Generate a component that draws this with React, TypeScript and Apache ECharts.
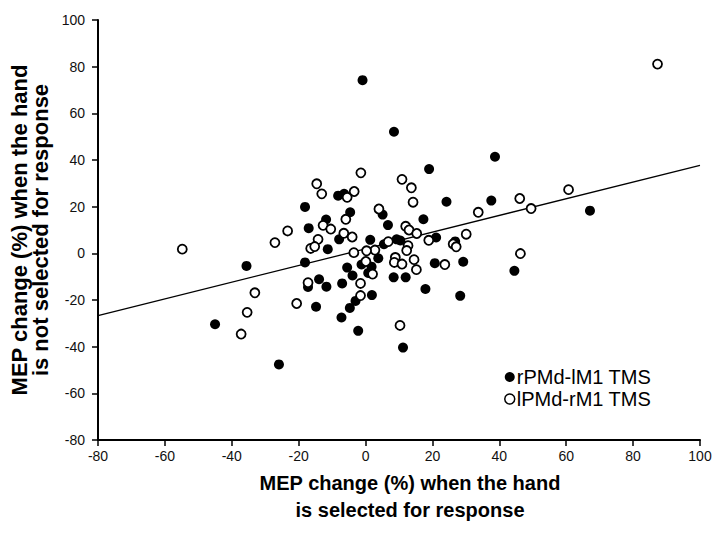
import React, { useEffect, useRef } from "react";
import * as echarts from "echarts";

// rPMd-lM1 TMS (filled circles): [x, y]
const rPMdData: number[][] = [
  [-0.9, 74.2], [8.5, 52.1], [38.7, 41.4], [19.0, 36.1], [24.2, 22.1], [37.6, 22.6],
  [67.1, 18.3], [17.3, 14.6], [44.5, -7.5], [-8.2, 24.7], [-6.4, 25.5], [-18.1, 19.9],
  [-4.6, 17.6], [5.1, 16.6], [-11.8, 14.5], [6.7, 12.1], [-17.0, 10.8], [-7.9, 6.0],
  [-11.3, 1.8], [1.4, 5.8], [5.5, 3.9], [9.3, 6.0], [10.4, 5.5], [21.1, 6.8],
  [26.8, 5.1], [3.8, -2.1], [-1.2, -4.8], [1.8, -5.7], [0.8, -8.4], [20.7, -4.2],
  [29.2, -3.6], [8.4, -10.3], [12.0, -10.3], [1.9, -17.9], [17.9, -15.3], [28.3, -18.2],
  [11.2, -40.4], [-18.1, -3.9], [-5.5, -6.1], [-3.9, -9.5], [-13.9, -11.1], [-11.7, -14.3],
  [-17.2, -14.4], [-7.0, -12.9], [-3.0, -20.4], [-4.7, -23.4], [-14.8, -22.9], [-7.2, -27.5],
  [-2.2, -33.2], [-35.6, -5.4], [-45.0, -30.4], [-25.9, -47.6],
];

// lPMd-rM1 TMS (open circles): [x, y]
const lPMdData: number[][] = [
  [87.3, 81.1], [60.7, 27.3], [46.1, 23.5], [49.5, 19.2], [33.7, 17.6], [10.9, 31.7],
  [13.7, 28.1], [14.2, 21.9], [46.3, -0.1], [-1.4, 34.5], [-14.6, 29.8], [-13.1, 25.5],
  [-5.5, 24.0], [-3.4, 26.5], [4.0, 19.0], [-5.9, 14.6], [12.0, 11.6], [13.0, 10.0],
  [15.3, 8.5], [18.9, 5.6], [30.1, 8.2], [26.2, 4.0], [27.1, 2.8], [6.8, 5.0],
  [12.7, 3.3], [12.3, 1.2], [2.8, 1.4], [0.3, 1.1], [-3.5, 0.3], [8.9, -1.8],
  [8.6, -3.9], [10.9, -4.6], [14.5, -2.7], [15.2, -7.0], [23.7, -4.8], [0.1, -3.5],
  [2.1, -8.9], [-1.5, -12.9], [-1.5, -18.1], [10.3, -30.9], [-17.2, -12.6], [-20.6, -21.5],
  [-12.7, 12.0], [-10.4, 10.4], [-23.3, 9.6], [-27.1, 4.6], [-6.5, 8.6], [-4.0, 7.0],
  [-14.2, 6.0], [-16.4, 2.1], [-15.2, 2.9], [-54.8, 1.8], [-33.1, -16.9], [-35.4, -25.3],
  [-37.2, -34.6],
];

// Regression line end points
const trendLine: number[][] = [[-80, -26.7], [100, 37.7]];

const seriesNames = ["rPMd-lM1 TMS", "lPMd-rM1 TMS"];
const xTitle = "MEP change (%) when the hand\nis selected for response";
const yTitle = "MEP change (%) when the hand\nis not selected for response";
const axisMin = -80;
const axisMax = 100;
const axisInterval = 20;

const FONT = "'Liberation Sans', Arial, sans-serif";

export default function App() {
  const ref = useRef<HTMLDivElement>(null);
  useEffect(() => {
    if (!ref.current) return;
    const chart = echarts.init(ref.current, null, { renderer: "svg" });
    const axisCommon = {
      type: "value" as const,
      min: axisMin,
      max: axisMax,
      interval: axisInterval,
      splitLine: { show: false },
      axisLine: { show: true, onZero: false, lineStyle: { color: "#000", width: 2 } },
      axisTick: { show: true, inside: false, length: 6, lineStyle: { color: "#000", width: 1.5 } },
      axisLabel: { color: "#111", fontSize: 14, fontFamily: FONT },
    };
    chart.setOption({
      animation: false,
      backgroundColor: "#fff",
      grid: { left: 98, right: 17, top: 20, bottom: 94, containLabel: false },
      xAxis: { ...axisCommon, axisLabel: { ...axisCommon.axisLabel, margin: 9 } },
      yAxis: { ...axisCommon, axisLabel: { ...axisCommon.axisLabel, margin: 13 } },
      legend: {
        orient: "vertical",
        left: 499,
        top: 362,
        itemWidth: 10,
        itemHeight: 10,
        itemGap: 2,
        textStyle: { fontSize: 20, fontFamily: FONT, color: "#000", padding: [0, 0, 0, -3] },
        data: [
          { name: seriesNames[0], itemStyle: { color: "#000", opacity: 1 } },
          { name: seriesNames[1], itemStyle: { color: "#fff", borderColor: "#000", borderWidth: 1.5 } },
        ],
      },
      graphic: [
        {
          type: "text",
          x: 30,
          y: 230,
          rotation: Math.PI / 2,
          style: {
            text: yTitle,
            fontSize: 22,
            fontWeight: "bold",
            fontFamily: FONT,
            fill: "#000",
            align: "center",
            verticalAlign: "middle",
            lineHeight: 21,
          },
        },
        {
          type: "text",
          x: 410,
          y: 496,
          style: {
            text: xTitle,
            fontSize: 20,
            fontWeight: "bold",
            fontFamily: FONT,
            fill: "#000",
            align: "center",
            verticalAlign: "middle",
            lineHeight: 27,
          },
        },
      ],
      series: [
        {
          name: "trend",
          type: "line",
          data: trendLine,
          symbol: "none",
          lineStyle: { color: "#000", width: 1.3 },
          silent: true,
          z: 1,
        },
        {
          name: seriesNames[0],
          type: "scatter",
          data: rPMdData,
          symbol: "circle",
          symbolSize: 10,
          itemStyle: { color: "#000", borderColor: "#000", borderWidth: 0, opacity: 1 },
          z: 2,
        },
        {
          name: seriesNames[1],
          type: "scatter",
          data: lPMdData,
          symbol: "circle",
          symbolSize: 9,
          itemStyle: { color: "#fff", borderColor: "#000", borderWidth: 1.8, opacity: 1 },
          z: 3,
        },
      ],
    });
    return () => chart.dispose();
  }, []);
  return <div ref={ref} style={{ width: 717, height: 534, position: "absolute", left: 0, top: 0 }} />;
}
